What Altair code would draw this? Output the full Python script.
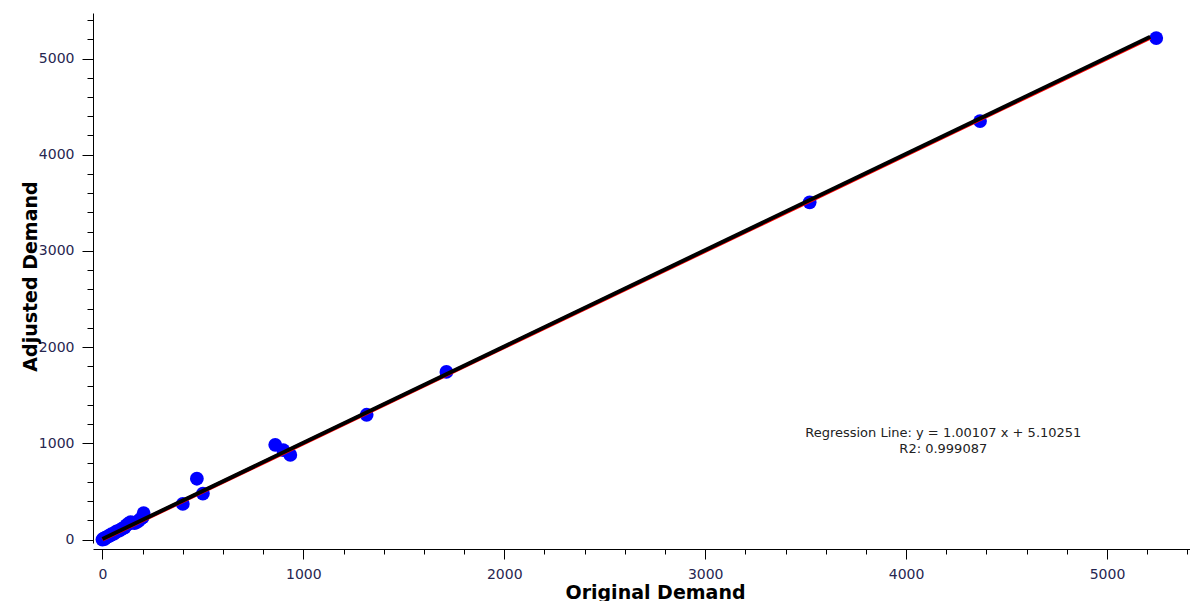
import altair as alt
import pandas as pd

# Observed points (Original Demand, Adjusted Demand)
orig = [0, 5, 10, 15, 22, 30, 38, 45, 55, 62, 70, 80, 90, 100, 110, 120, 130,
        140, 150, 160, 170, 180, 190, 200, 205, 400, 470, 500, 860, 900, 935,
        1315, 1712, 3520, 4368, 5245]
adj = [0, 10, 5, 20, 25, 35, 40, 55, 60, 70, 85, 90, 100, 115, 125, 150, 165,
       180, 175, 170, 180, 195, 215, 230, 275, 370, 632, 478, 985, 930, 880,
       1297, 1742, 3505, 4350, 5212]

slope = 1.00107
intercept = 5.10251
line_x = [0, 5215]

note_lines = ["Regression Line: y = 1.00107 x + 5.10251", "R2: 0.999087"]
note_x = [4185, 4185]
note_y = [1107, 941]

ticks_x = list(range(0, 5401, 200))
ticks_y = list(range(0, 5401, 200))

pts = pd.DataFrame({"x": orig, "y": adj})
reg = pd.DataFrame({"x": line_x, "y": [slope * v + intercept for v in line_x]})
ident = pd.DataFrame({"x": line_x, "y": line_x})
notes = pd.DataFrame({"x": note_x, "y": note_y, "t": note_lines})

FONT = "DejaVu Sans"
LABEL_COLOR = "#262650"

xscale = alt.Scale(domain=[-47, 5413], nice=False, zero=False)
yscale = alt.Scale(domain=[-36, 5473], nice=False, zero=False)

xaxis = alt.Axis(
    values=ticks_x, format="d",
    labelExpr="datum.value % 1000 === 0 ? datum.label : ''",
    labelOverlap=False, grid=False, offset=6,
    tickSize={"condition": {"test": "datum.value % 1000 === 0", "value": 10}, "value": 5},
    tickColor="black", domainColor="black", tickWidth=1, domainWidth=1,
    labelFont=FONT, labelFontSize=14, labelColor=LABEL_COLOR, labelPadding=8,
    title="Original Demand", titleFont=FONT, titleFontSize=19, titleFontWeight="bold",
    titleColor="black", titleX=562, titleY=49, titleBaseline="alphabetic",
    titleAnchor="start", titleAlign="center",
)
yaxis = alt.Axis(
    values=ticks_y, format="d",
    labelExpr="datum.value % 1000 === 0 ? datum.label : ''",
    labelOverlap=False, grid=False,
    tickSize={"condition": {"test": "datum.value % 1000 === 0", "value": 11}, "value": 6},
    tickColor="black", domainColor="black", tickWidth=1, domainWidth=1,
    labelFont=FONT, labelFontSize=14, labelColor=LABEL_COLOR, labelPadding=8,
    title="Adjusted Demand", titleFont=FONT, titleFontSize=19, titleFontWeight="bold",
    titleColor="black", titleX=-57, titleY=263, titleAngle=270,
    titleBaseline="alphabetic", titleAnchor="start", titleAlign="center",
)

X = alt.X("x:Q", scale=xscale, axis=xaxis)
Y = alt.Y("y:Q", scale=yscale, axis=yaxis)

dots = alt.Chart(pts).mark_circle(color="#0000ff", opacity=1, size=190).encode(x=X, y=Y)
red = alt.Chart(ident).mark_line(color="#ff0000", strokeWidth=4).encode(x=X, y=Y)
black = alt.Chart(reg).mark_line(color="#000000", strokeWidth=4).encode(x=X, y=Y)
text = alt.Chart(notes).mark_text(font=FONT, fontSize=13, color="#222222",
                                  align="center", baseline="middle").encode(
    x=X, y=Y, text="t:N",
)

chart = alt.layer(dots, red, black, text).properties(
    width=1097, height=530,
    background="white",
    autosize=alt.AutoSizeParams(type="none"),
    padding={"left": 85, "top": 5, "right": 0, "bottom": 58},
).configure_view(stroke=None)

chart.save("out.html", embed_options={"renderer": "svg", "actions": False})
